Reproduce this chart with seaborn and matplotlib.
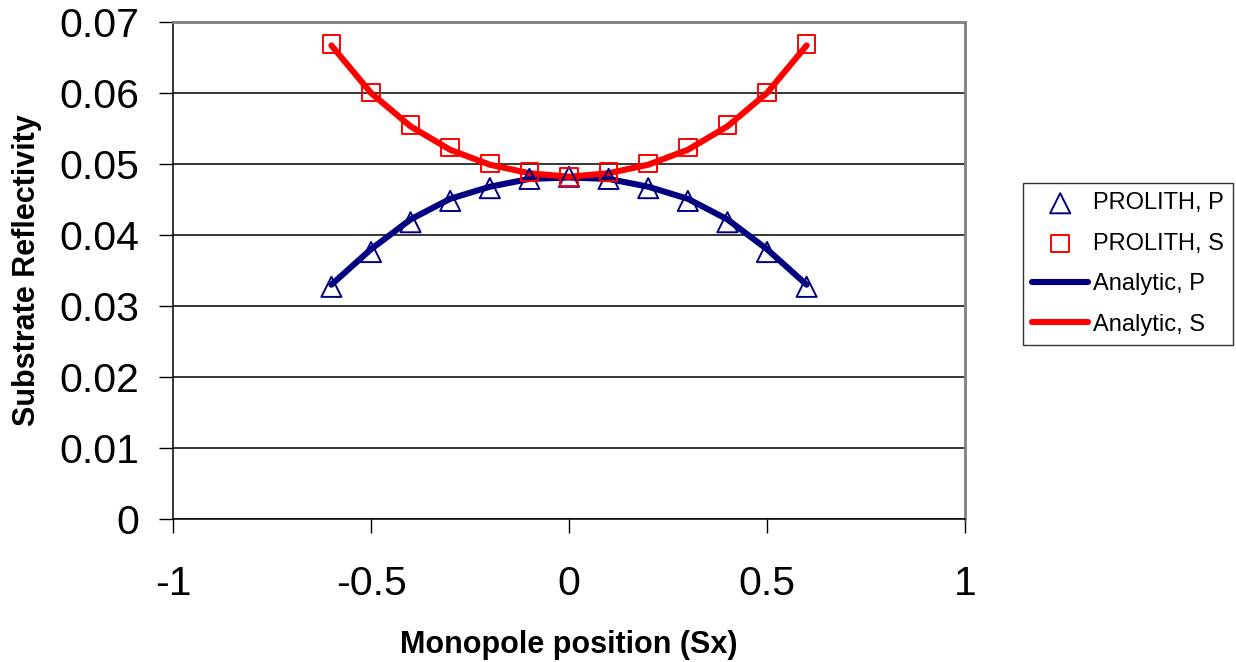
import numpy as np
import pandas as pd
import matplotlib
matplotlib.use("Agg")
import matplotlib.pyplot as plt
import seaborn as sns

# monopole positions
sx = [-0.6, -0.5, -0.4, -0.3, -0.2, -0.1, 0.0, 0.1, 0.2, 0.3, 0.4, 0.5, 0.6]

# PROLITH simulated reflectivity
prolith_p = [0.0327, 0.0376, 0.0418, 0.0448, 0.0466, 0.0479, 0.0482,
             0.0479, 0.0466, 0.0448, 0.0418, 0.0376, 0.0327]
prolith_s = [0.0669, 0.0601, 0.0555, 0.0523, 0.0501, 0.0489, 0.0482,
             0.0489, 0.0501, 0.0523, 0.0555, 0.0601, 0.0669]

# analytic reflectivity
analytic_p = [0.0330, 0.0380, 0.0422, 0.0451, 0.0468, 0.0479, 0.0481,
              0.0479, 0.0468, 0.0451, 0.0422, 0.0380, 0.0330]
analytic_s = [0.0667, 0.0600, 0.0553, 0.0520, 0.0499, 0.0487, 0.0482,
              0.0487, 0.0499, 0.0520, 0.0553, 0.0600, 0.0667]

yticks = [0, 0.01, 0.02, 0.03, 0.04, 0.05, 0.06, 0.07]
xticks = [-1, -0.5, 0, 0.5, 1]

sns.set_style("white")
plt.rcParams['font.family'] = ['Liberation Sans', 'DejaVu Sans']
plt.rcParams['text.color'] = 'black'
plt.rcParams['xtick.color'] = 'black'
plt.rcParams['ytick.color'] = 'black'
plt.rcParams['axes.labelcolor'] = 'black'

fig = plt.figure(figsize=(12.36, 6.62), dpi=100)
ax = fig.add_axes([173/1236, 1 - 519/662, (965 - 173)/1236, (519 - 22)/662])

ax.set_xlim(-1, 1)
ax.set_ylim(0, 0.07)
ax.set_yticks(yticks)
ax.set_xticks(xticks)
ax.set_yticklabels([f"{v:g}" for v in yticks])
ax.set_xticklabels([f"{v:g}" for v in xticks])
ax.yaxis.grid(True, color='black', linewidth=1.1)
ax.set_axisbelow(True)

sns.lineplot(x=sx, y=analytic_p, ax=ax, color='#000080', linewidth=4.4,
             label='Analytic, P', zorder=3)
sns.lineplot(x=sx, y=analytic_s, ax=ax, color='#FF0000', linewidth=4.4,
             label='Analytic, S', zorder=3)
sns.scatterplot(x=sx, y=prolith_p, ax=ax, marker='^', s=210,
                facecolor='none', edgecolor='#000080', linewidth=1.4,
                label='PROLITH, P', zorder=4)
sns.scatterplot(x=sx, y=prolith_s, ax=ax, marker='s', s=160,
                facecolor='none', edgecolor='#FF0000', linewidth=1.4,
                label='PROLITH, S', zorder=4)

for side in ['top', 'right']:
    ax.spines[side].set_color('#808080')
    ax.spines[side].set_linewidth(2)
for side in ['left', 'bottom']:
    ax.spines[side].set_color('black')
    ax.spines[side].set_linewidth(1.1)

ax.tick_params(axis='y', direction='out', length=10, width=1, left=True,
               pad=14, labelsize=29.5)
ax.tick_params(axis='x', direction='out', length=10, width=1, bottom=True,
               pad=23, labelsize=29.5)

ax.set_xlabel('Monopole position (Sx)', fontsize=22, fontweight='bold')
ax.set_ylabel('Substrate Reflectivity', fontsize=22, fontweight='bold')
ax.xaxis.label.set_va('center')
ax.yaxis.label.set_va('center')
ax.xaxis.set_label_coords(0.5, (519 - 645) / 497)
ax.yaxis.set_label_coords((27 - 173) / 792, 0.5)

handles, labels = ax.get_legend_handles_labels()
order = [labels.index(l) for l in ['PROLITH, P', 'PROLITH, S',
                                   'Analytic, P', 'Analytic, S']]
ax.legend_.remove()
leg = fig.legend([handles[i] for i in order], [labels[i] for i in order],
                 loc='upper left', bbox_to_anchor=(1023/1236, 1 - 183/662),
                 frameon=True, fancybox=False, fontsize=17,
                 handlelength=2.35, handletextpad=0.2, borderpad=0.4,
                 labelspacing=0.78, borderaxespad=0)
leg.get_frame().set_edgecolor('black')
leg.get_frame().set_linewidth(1)

fig.savefig('out.png', dpi=100)
